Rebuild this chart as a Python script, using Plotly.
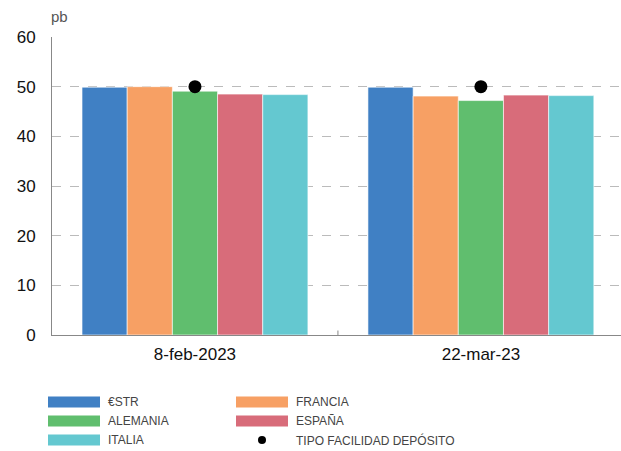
import plotly.graph_objects as go

fechas = ["8-feb-2023", "22-mar-23"]
series = ["€STR", "FRANCIA", "ALEMANIA", "ESPAÑA", "ITALIA"]
valores = {
    "€STR": [49.9, 49.9],
    "FRANCIA": [50.0, 48.1],
    "ALEMANIA": [49.1, 47.2],
    "ESPAÑA": [48.5, 48.3],
    "ITALIA": [48.4, 48.2],
}
tipo_deposito = [50.0, 50.0]
colores = {
    "€STR": "#4080C4",
    "FRANCIA": "#F7A064",
    "ALEMANIA": "#60BE6E",
    "ESPAÑA": "#D86C7A",
    "ITALIA": "#64C8D0",
}

fig = go.Figure()
for s in series:
    fig.add_trace(go.Bar(
        x=fechas, y=valores[s], name=s,
        marker=dict(color=colores[s], line=dict(color="rgba(255,255,255,0.6)", width=1)),
    ))
fig.add_trace(go.Scatter(
    x=fechas, y=tipo_deposito, mode="markers", name="TIPO FACILIDAD DEPÓSITO",
    marker=dict(color="black", size=13),
))

fig.update_layout(
    width=621, height=451,
    margin=dict(l=52, r=0, t=37, b=116),
    plot_bgcolor="white", paper_bgcolor="white",
    barmode="group", bargap=0.21, bargroupgap=0,
    showlegend=False,
    font=dict(family="Liberation Sans, Arial", color="#111"),
)
fig.update_yaxes(
    range=[0, 60], dtick=10, showgrid=True, gridcolor="#bbbbbb", griddash="dash",
    gridwidth=1, showline=True, linecolor="#888", linewidth=1, ticks="",
    tickfont=dict(size=17, color="#111"), ticklabelstandoff=12, zeroline=False,
)
fig.update_xaxes(
    range=[-0.5, 1.49], showline=True, linecolor="#888", linewidth=1,
    ticks="", tickfont=dict(size=17, color="#111"), ticklabelstandoff=4,
)

# small tick between the two dates
fig.add_shape(type="line", xref="x", yref="paper", x0=0.5, x1=0.5, y0=0, y1=0.015,
              line=dict(color="#888", width=1))

# pixel helpers for the annotation layer
pl, pt, pw, ph = 52, 37, 569, 298

def px(x):
    return (x - pl) / pw

def py(y):
    return 1 - (y - pt) / ph

fig.add_annotation(text="pb", xref="paper", yref="paper", x=px(49), y=py(16),
                   xanchor="left", yanchor="middle", showarrow=False,
                   font=dict(size=15, color="#555"))

leyenda = [
    ("€STR", 0, 0), ("FRANCIA", 1, 0),
    ("ALEMANIA", 0, 1), ("ESPAÑA", 1, 1),
    ("ITALIA", 0, 2), ("TIPO FACILIDAD DEPÓSITO", 1, 2),
]
cols = [48, 236]
rows = [402, 421, 440]
for nombre, c, r in leyenda:
    x0 = cols[c]
    yc = rows[r]
    if nombre in colores:
        fig.add_shape(type="rect", xref="paper", yref="paper",
                      x0=px(x0), x1=px(x0 + 52), y0=py(yc - 5.5), y1=py(yc + 5.5),
                      fillcolor=colores[nombre], line=dict(width=0))
    else:
        fig.add_shape(type="circle", xref="paper", yref="paper",
                      x0=px(x0 + 22), x1=px(x0 + 30), y0=py(yc - 4), y1=py(yc + 4),
                      fillcolor="black", line=dict(width=0))
    fig.add_annotation(text=nombre, xref="paper", yref="paper",
                       x=px(x0 + 58), y=py(yc), xanchor="left", yanchor="middle",
                       showarrow=False,
                       font=dict(size=12, color="#444",
                                 family="Liberation Sans Narrow, Arial Narrow, Liberation Sans, sans-serif"))

fig.write_html("out.html")
